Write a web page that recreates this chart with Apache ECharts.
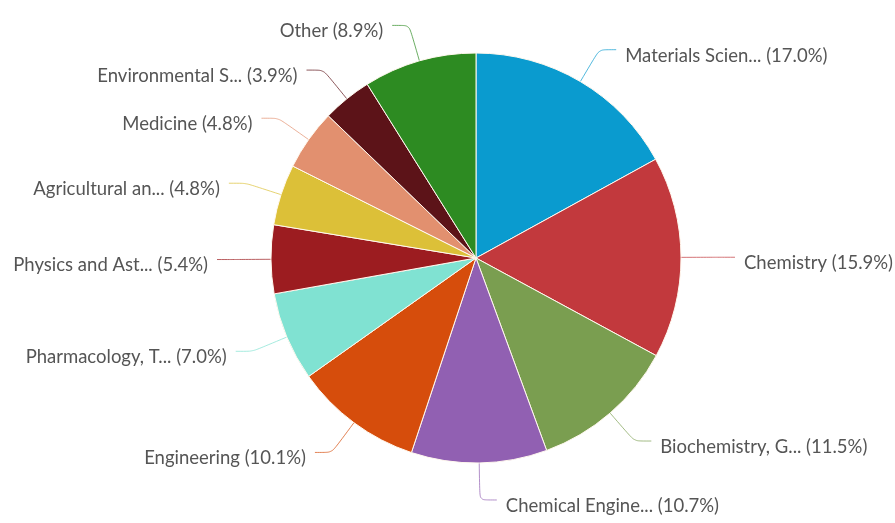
<!DOCTYPE html>
<html>
<head>
<meta charset="utf-8">
<script src="https://cdn.jsdelivr.net/npm/echarts@6/dist/echarts.min.js"></script>
<style>
  html, body { margin: 0; padding: 0; background: #fff; }
  #chart { width: 895px; height: 523px; }
</style>
</head>
<body>
<div id="chart"></div>
<script>
// subject areas, clockwise from 12 o'clock
var categories = [
  'Materials Scien...',
  'Chemistry',
  'Biochemistry, G...',
  'Chemical Engine...',
  'Engineering',
  'Pharmacology, T...',
  'Physics and Ast...',
  'Agricultural an...',
  'Medicine',
  'Environmental S...',
  'Other'
];
var shares = [17.0, 15.9, 11.5, 10.7, 10.1, 7.0, 5.4, 4.8, 4.8, 3.9, 8.9];
var colors = [
  '#0a9bcf', '#c2393d', '#7a9e50', '#9160b2', '#d64d0c', '#80e2d2',
  '#9c1c20', '#dcc038', '#e2906f', '#5c1318', '#2d8b22'
];

var chart = echarts.init(document.getElementById('chart'));

var pieData = categories.map(function (name, i) {
  return { name: name, value: shares[i], itemStyle: { color: colors[i] } };
});

chart.setOption({
  animation: false,
  series: [
    {
      type: 'pie',
      center: [476, 258],
      radius: 205,
      startAngle: 90,
      clockwise: true,
      data: pieData,
      itemStyle: {
        borderColor: '#fff8ee',
        borderWidth: 1
      },
      label: {
        show: true,
        // keep one decimal like the original (17.0%, 7.0%)
        formatter: function (p) {
          return p.name + ' (' + p.percent.toFixed(1) + '%)';
        },
        color: '#555',
        fontFamily: 'Lato',
        fontSize: 18.5,
        overflow: 'none',
        distanceToLabelLine: 9
      },
      labelLine: {
        show: true,
        length: 37,
        length2: 17,
        smooth: 0.2,
        lineStyle: { width: 1, opacity: 0.7 }
      },
      // text sits a little below the connector end in the original
      labelLayout: { dy: 6 },
      emphasis: { disabled: true }
    }
  ]
});
</script>
</body>
</html>
